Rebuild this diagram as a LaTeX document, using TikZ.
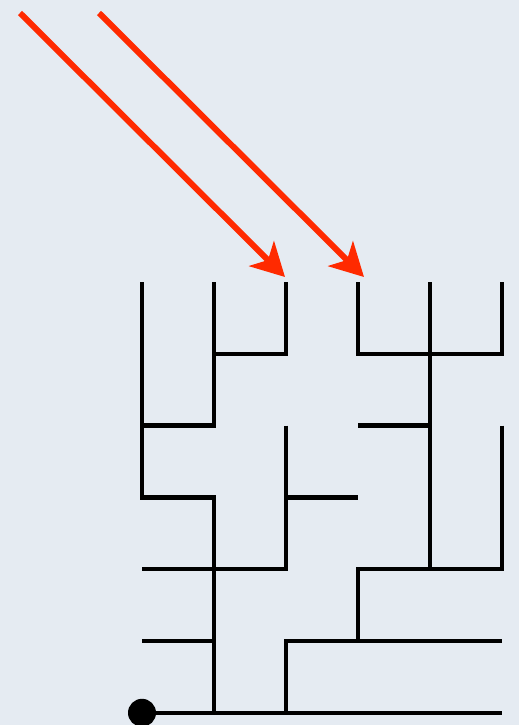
\documentclass[tikz,border=0pt]{standalone}
\usepackage{tikz}
\usetikzlibrary{arrows.meta,positioning,calc}
\usepackage{xcolor}
\definecolor{paper}{HTML}{E5EBF2}
\definecolor{signal}{HTML}{FF2A00}
\definecolor{wire}{HTML}{000000}

\begin{document}
\begin{tikzpicture}[
  x=1pt, y=-1pt,
  wall/.style={draw=wire, line width=4.5pt, line join=miter},
  feed/.style={draw=signal, line width=6pt,
    -{Stealth[length=33pt, width=35pt, inset=9pt]}},
  root/.style={circle, fill=wire, inner sep=0pt, minimum size=28pt}
]
  % paper and page size
  \fill[paper] (0,0) rectangle (519,725);
  \useasboundingbox (0,0) rectangle (519,725);

  % grid of junctions: g-<column>-<row>
  \def\xo{142}\def\yo{282}\def\dx{72}\def\dy{71.8}
  \foreach \i in {0,...,5}
    \foreach \j in {0,...,6}
      \coordinate (g-\i-\j) at (\xo+\dx*\i, \yo+\dy*\j);

  % left half of the tree
  \draw[wall] (g-0-0) -- (g-0-3) -- (g-1-3) -- (g-1-6);
  \draw[wall] (g-1-0) -- (g-1-2) -- (g-0-2);
  \draw[wall] (g-1-1) -- (g-2-1) -- (g-2-0);
  \draw[wall] (g-2-2) -- (g-2-4) -- (g-0-4);
  \draw[wall] (g-2-3) -- (g-3-3);
  \draw[wall] (g-0-5) -- (g-1-5);

  % right half of the tree
  \draw[wall] (g-3-0) -- (g-3-1) -- (g-5-1) -- (g-5-0);
  \draw[wall] (g-4-0) -- (g-4-4);
  \draw[wall] (g-3-2) -- (g-4-2);
  \draw[wall] (g-5-2) -- (g-5-4) -- (g-3-4) -- (g-3-5);
  \draw[wall] (g-2-6) -- (g-2-5) -- (g-5-5);

  % trunk and its root
  \draw[wall] (g-0-6) -- (g-5-6);
  \node[root] (base) at (g-0-6) {};

  % incoming red arrows
  \coordinate (src-a) at (20,13);
  \coordinate (src-b) at (99,13);
  \coordinate (tip-a) at ($(g-2-0)+(-1,-5)$);
  \coordinate (tip-b) at ($(g-3-0)+(6,-5)$);
  \draw[feed] (src-a) -- (tip-a);
  \draw[feed] (src-b) -- (tip-b);
\end{tikzpicture}
\end{document}
